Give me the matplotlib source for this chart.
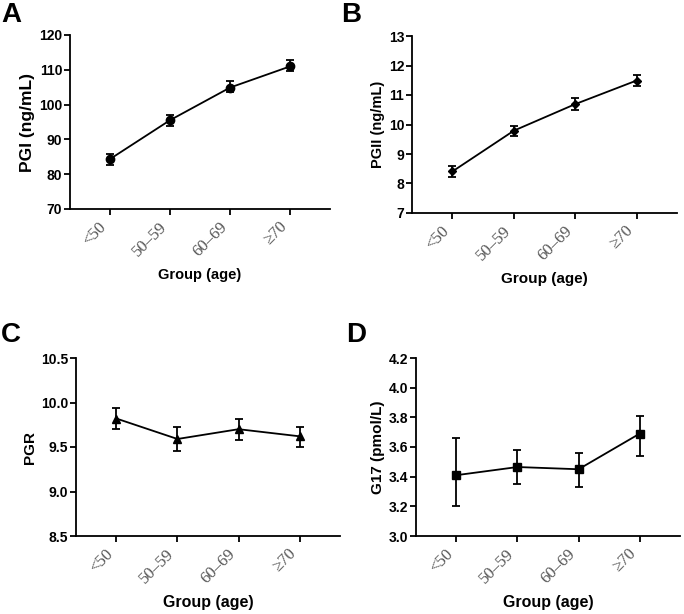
import matplotlib
matplotlib.use("Agg")
import matplotlib.pyplot as plt
import matplotlib.transforms as mtransforms

plt.rcParams["font.family"] = ["Liberation Sans", "DejaVu Sans"]

groups = ["<50", "50\u201359", "60\u201369", "\u226570"]

# Panel A: PGI (ng/mL)
pgi_mean = [84.3, 95.5, 104.9, 111.0]
pgi_lo = [1.7, 1.6, 1.3, 1.4]
pgi_hi = [1.6, 1.6, 2.0, 1.9]

# Panel B: PGII (ng/mL)
pgii_mean = [8.41, 9.79, 10.69, 11.49]
pgii_lo = [0.2, 0.17, 0.2, 0.2]
pgii_hi = [0.2, 0.17, 0.2, 0.2]

# Panel C: PGR
pgr_mean = [9.82, 9.59, 9.70, 9.62]
pgr_lo = [0.12, 0.13, 0.12, 0.12]
pgr_hi = [0.12, 0.13, 0.11, 0.11]

# Panel D: G17 (pmol/L)
g17_mean = [3.41, 3.465, 3.45, 3.69]
g17_lo = [0.21, 0.115, 0.12, 0.15]
g17_hi = [0.25, 0.115, 0.11, 0.12]

panels = [
    # letter, mean, lo, hi, ylabel, ylim, yticks, fmt, marker, ms,
    # axes rect (px), letter pos (px), ylabel size, xlabel size
    ("A", pgi_mean, pgi_lo, pgi_hi, "PGI (ng/mL)", (70, 120),
     [70, 80, 90, 100, 110, 120], "{:.0f}", "o", 6,
     [70, 35, 330, 209], (1, 2), 12.5, 10.5),
    ("B", pgii_mean, pgii_lo, pgii_hi, "PGII (ng/mL)", (7, 13),
     [7, 8, 9, 10, 11, 12, 13], "{:.0f}", "D", 4.5,
     [412, 36, 677, 213], (341, 2), 10.5, 11),
    ("C", pgr_mean, pgr_lo, pgr_hi, "PGR", (8.5, 10.5),
     [8.5, 9.0, 9.5, 10.0, 10.5], "{:.1f}", "^", 6,
     [76, 358, 340, 536], (1, 322), 11, 11.5),
    ("D", g17_mean, g17_lo, g17_hi, "G17 (pmol/L)", (3.0, 4.2),
     [3.0, 3.2, 3.4, 3.6, 3.8, 4.0, 4.2], "{:.1f}", "s", 6,
     [416, 358, 680, 536], (346, 322), 11, 11.5),
]

W, H = 684, 614
fig = plt.figure(figsize=(W / 100, H / 100), dpi=100)

x = list(range(len(groups)))
for (letter, mean, lo, hi, ylabel, ylim, yticks, fmt, marker, ms,
     rect, lpos, ylsize, xlsize) in panels:
    l, t, r, b = rect
    ax = fig.add_axes([l / W, 1 - b / H, (r - l) / W, (b - t) / H])
    ax.errorbar(x, mean, yerr=[lo, hi], color="black", lw=1.3, elinewidth=1.3,
                capsize=3, capthick=1.3, marker=marker, ms=ms, mfc="black",
                mec="black", clip_on=False, zorder=3)
    ax.set_xlim(-0.66, 3.66)
    ax.set_ylim(*ylim)
    ax.set_yticks(yticks)
    ax.set_yticklabels([fmt.format(v) for v in yticks], fontweight="bold", fontsize=10)
    ax.set_xticks(x)
    ax.set_xticklabels(groups, rotation=45, ha="right", fontsize=12,
                       family=["Liberation Serif", "DejaVu Serif"], color="#555555")
    offset = mtransforms.ScaledTranslation(5 / 100, 0, fig.dpi_scale_trans)
    for lab in ax.get_xticklabels():
        lab.set_transform(lab.get_transform() + offset)
    for side in ("top", "right"):
        ax.spines[side].set_visible(False)
    for side in ("left", "bottom"):
        ax.spines[side].set_linewidth(1.3)
    ax.tick_params(axis="both", direction="out", length=4, width=1.3)
    ax.tick_params(axis="y", pad=1.5)
    ax.tick_params(axis="x", pad=3)
    ax.set_ylabel(ylabel, fontweight="bold", fontsize=ylsize, labelpad=3)
    ax.set_xlabel("Group (age)", fontweight="bold", fontsize=xlsize, labelpad=6)
    fig.text(lpos[0] / W, 1 - lpos[1] / H, letter, fontsize=20, fontweight="bold",
             ha="left", va="top")

fig.savefig("out.png", dpi=100)
